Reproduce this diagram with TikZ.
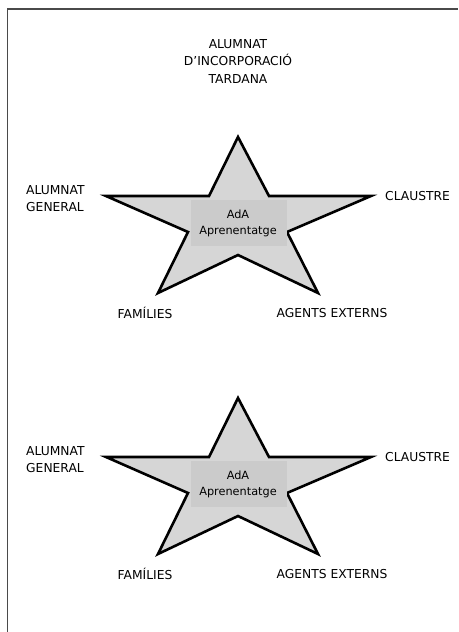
\documentclass[tikz,border=0pt]{standalone}
\usepackage{fontspec}
\setmainfont{DejaVu Sans}
\definecolor{starfill}{HTML}{D6D6D6}
\definecolor{boxfill}{HTML}{CBCBCB}
\definecolor{framecol}{HTML}{4A4A4A}
\begin{document}
\begin{tikzpicture}[x=1pt,y=-1pt,
  lbl/.style={font=\fontsize{12.3}{17.3}\selectfont, inner sep=0pt, align=center},
  lbll/.style={font=\fontsize{12.3}{17}\selectfont, inner sep=0pt, align=left},
  startxt/.style={font=\fontsize{11.3}{16}\selectfont, inner sep=0pt, align=center},
  starshape/.style={draw=black, line width=2.6pt, fill=starfill, line join=miter},
]
\useasboundingbox (0,0) rectangle (458,632);
\draw[framecol, line width=1.3pt] (7.5,632) -- (7.5,9) -- (458,9);

\node[lbl] (tardana) at (238,61.5) {ALUMNAT\\D’INCORPORACIÓ\\TARDANA};

\foreach \dy/\s in {0/a,261/b}{
  \begin{scope}[yshift=-\dy]
  \draw[starshape] (238,137) -- (269,196) -- (371,196) -- (287,232) -- (318,293)
     -- (238,255) -- (158,293) -- (188,232) -- (106,196) -- (209,196) -- cycle;
  \fill[boxfill] (191,200) rectangle (287,246);
  \node[startxt] (ada\s) at (238,223) {AdA\\Aprenentatge};
  \node[lbll, anchor=west] (gen\s) at (26,198.5) {ALUMNAT\\GENERAL};
  \node[lbl, anchor=west] (cla\s) at (385,196) {CLAUSTRE};
  \node[lbl] (fam\s) at (145,313) {FAMÍLIES};
  \node[lbl] (age\s) at (332,313) {AGENTS EXTERNS};
  \end{scope}
}
\end{tikzpicture}
\end{document}
